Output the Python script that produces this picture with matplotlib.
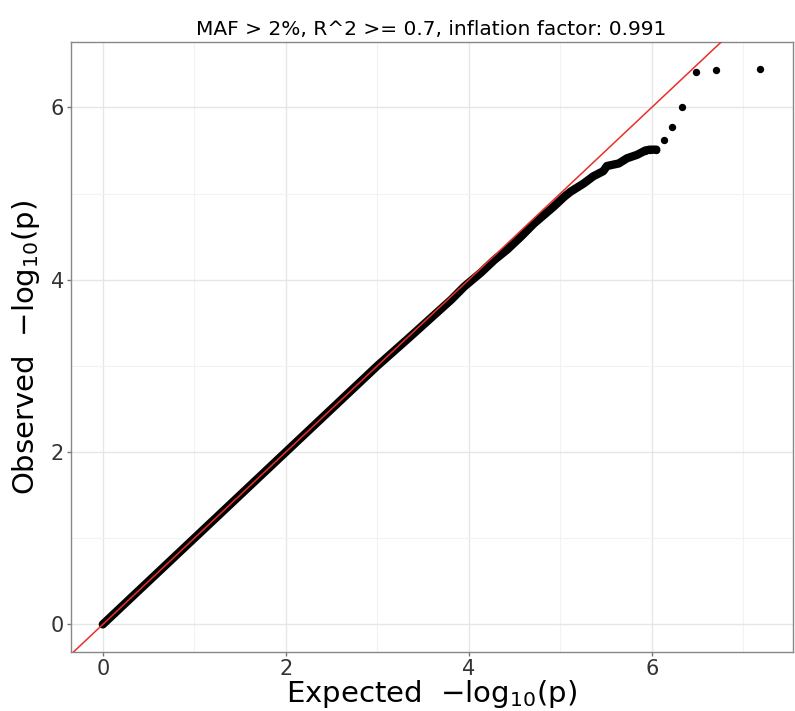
import matplotlib
matplotlib.use("Agg")
import matplotlib.pyplot as plt

# dense part of the QQ curve, expected vs observed -log10(p)
exp_dense = [0.0, 0.5, 1.0, 1.5, 2.0, 2.5, 3.0, 3.34, 3.81, 3.95, 4.13, 4.28,
             4.42, 4.57, 4.71, 4.93, 5.04, 5.11, 5.26, 5.36, 5.47, 5.51,
             5.64, 5.73, 5.84, 5.93, 5.98, 6.05]
obs_dense = [0.0, 0.5, 1.0, 1.5, 2.0, 2.5, 3.0, 3.32, 3.77, 3.92, 4.08, 4.23,
             4.35, 4.50, 4.65, 4.85, 4.96, 5.02, 5.12, 5.20, 5.26, 5.32,
             5.35, 5.41, 5.45, 5.50, 5.51, 5.51]

# isolated top points
exp_tail = [5.93, 5.98, 6.05, 6.13, 6.22, 6.33, 6.48, 6.70, 7.18]
obs_tail = [5.50, 5.51, 5.51, 5.62, 5.77, 6.01, 6.41, 6.44, 6.45]

title = "MAF > 2%, R^2 >= 0.7, inflation factor: 0.991"
xticks = [0, 2, 4, 6]
yticks = [0, 2, 4, 6]

fig = plt.figure(figsize=(7.95, 7.11), dpi=100)
ax = fig.add_axes([0.089, 0.083, 0.908, 0.858])

ax.plot(exp_dense, obs_dense, color="black", lw=6, solid_capstyle="round",
        solid_joinstyle="round", zorder=2)
ax.scatter(exp_tail, obs_tail, s=28, color="black", zorder=3, linewidths=0)
ax.axline((0, 0), slope=1, color="#e8302a", lw=1.1, zorder=4)

ax.set_xlim(-0.35, 7.54)
ax.set_ylim(-0.32, 6.76)
ax.set_xticks(xticks)
ax.set_yticks(yticks)
ax.set_xticks([1, 3, 5, 7], minor=True)
ax.set_yticks([1, 3, 5], minor=True)
ax.grid(which="major", color="#e6e6e6", lw=1.0)
ax.grid(which="minor", color="#f2f2f2", lw=0.8)
ax.set_axisbelow(True)
ax.tick_params(which="major", length=3, pad=2, color="#777777", labelsize=15,
               labelcolor="#333333", width=1)
ax.tick_params(which="minor", length=0)
for s in ax.spines.values():
    s.set_color("#888888")
    s.set_linewidth(1.0)

ax.set_title(title, fontsize=14.5, pad=5)
ax.set_xlabel(r"Expected  $-\mathrm{log}_{10}(\mathrm{p})$", fontsize=21, labelpad=-1)
ax.set_ylabel(r"Observed  $-\mathrm{log}_{10}(\mathrm{p})$", fontsize=21, labelpad=6)

fig.savefig("out.png", dpi=100)
